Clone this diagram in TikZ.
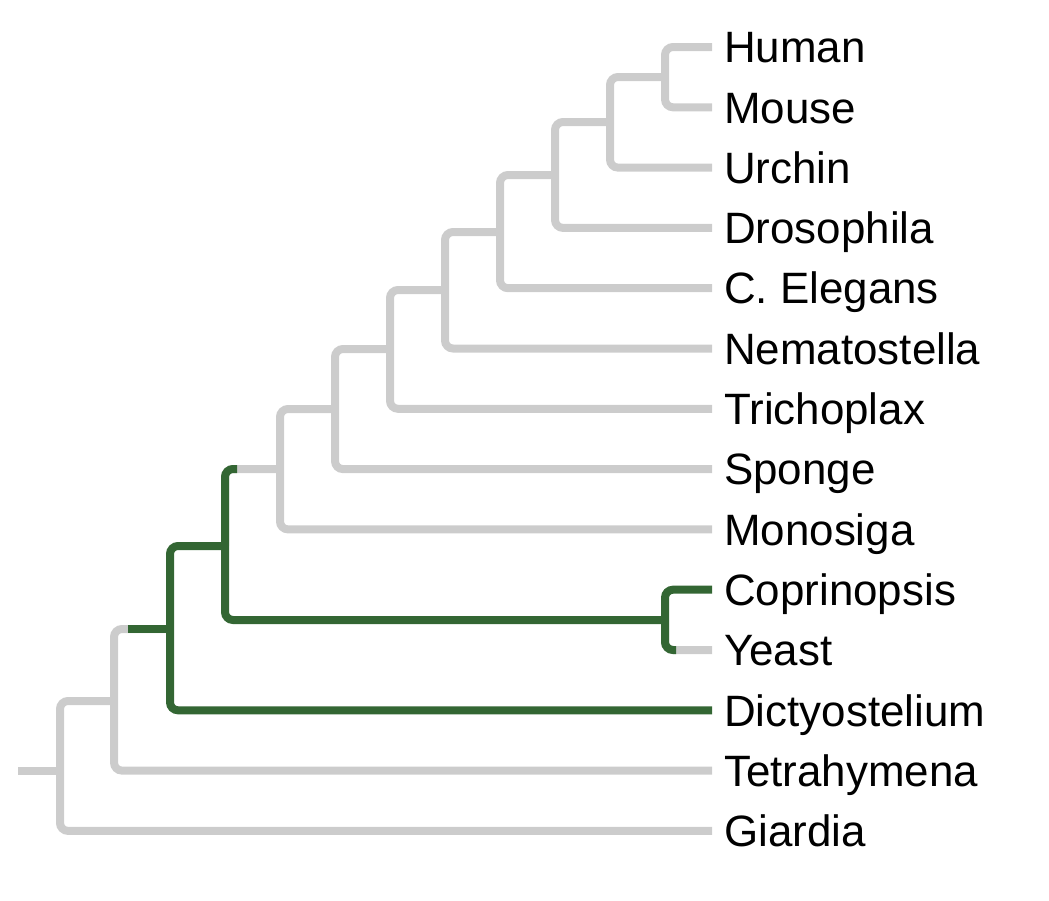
\documentclass[tikz,border=0pt]{standalone}
\usepackage{fontspec}
\setmainfont{Liberation Sans}
\usetikzlibrary{calc}
\definecolor{branchgrey}{RGB}{204,204,204}
\definecolor{branchgreen}{RGB}{51,102,51}
\begin{document}
\begin{tikzpicture}[x=1pt,y=-1pt,
  leaf/.style={anchor=west, inner xsep=12pt, inner ysep=0pt, text height=31.4pt, text depth=0pt, font=\fontsize{43.9}{50}\selectfont},
  greybranch/.style={draw=branchgrey, line width=8pt, rounded corners=8pt},
  greenbranch/.style={draw=branchgreen, line width=8pt, rounded corners=8pt}]
\useasboundingbox (0,0) rectangle (1049,900);
% leaves
\node[leaf] (human) at (712,47) {Human};
\node[leaf] (mouse) at (712,107.3) {Mouse};
\node[leaf] (urchin) at (712,167.6) {Urchin};
\node[leaf] (droso) at (712,227.9) {Drosophila};
\node[leaf] (elegans) at (712,288.2) {C. Elegans};
\node[leaf] (nemato) at (712,348.5) {Nematostella};
\node[leaf] (tricho) at (712,408.8) {Trichoplax};
\node[leaf] (sponge) at (712,469.1) {Sponge};
\node[leaf] (monosiga) at (712,529.4) {Monosiga};
\node[leaf] (copri) at (712,589.7) {Coprinopsis};
\node[leaf] (yeast) at (712,650) {Yeast};
\node[leaf] (dicty) at (712,710.3) {Dictyostelium};
\node[leaf] (tetra) at (712,770.6) {Tetrahymena};
\node[leaf] (giardia) at (712,830.9) {Giardia};
% internal nodes
\coordinate (hm) at (665,77);
\coordinate (hmu) at (610,122);
\coordinate (bil) at (555,175);
\coordinate (ce) at (500,232);
\coordinate (eum) at (445,290);
\coordinate (tri) at (390,349);
\coordinate (met) at (335,409);
\coordinate (hol) at (280,469);
\coordinate (fun) at (665,620);
\coordinate (opi) at (225,546);
\coordinate (amo) at (170,629);
\coordinate (tet) at (114,701);
\coordinate (root) at (60,771);
\coordinate (rootend) at (18,771);
% grey branches
\draw[greybranch] (human.west) -| (hm) |- (mouse.west);
\draw[greybranch] (hm) -| (hmu) |- (urchin.west);
\draw[greybranch] (hmu) -| (bil) |- (droso.west);
\draw[greybranch] (bil) -| (ce) |- (elegans.west);
\draw[greybranch] (ce) -| (eum) |- (nemato.west);
\draw[greybranch] (eum) -| (tri) |- (tricho.west);
\draw[greybranch] (tri) -| (met) |- (sponge.west);
\draw[greybranch] (met) -| (hol) |- (monosiga.west);
\draw[greybranch] (opi) |- (hol);
\draw[greybranch] (fun) |- (yeast.west);
\draw[greybranch] (amo) -| (tet) |- (tetra.west);
\draw[greybranch] (tet) -| (root) |- (giardia.west);
\draw[greybranch] (rootend) -- (root);
% green branches
\draw[greenbranch] (copri.west) -| (fun) |- ($(yeast.west)+(-36,0)$);
\draw[greenbranch] (fun) -| (opi) |- ($(hol)+(-43,0)$);
\draw[greenbranch] (opi) -| (amo) |- (dicty.west);
\draw[greenbranch] (amo) -- ++(-42,0);
\end{tikzpicture}
\end{document}
